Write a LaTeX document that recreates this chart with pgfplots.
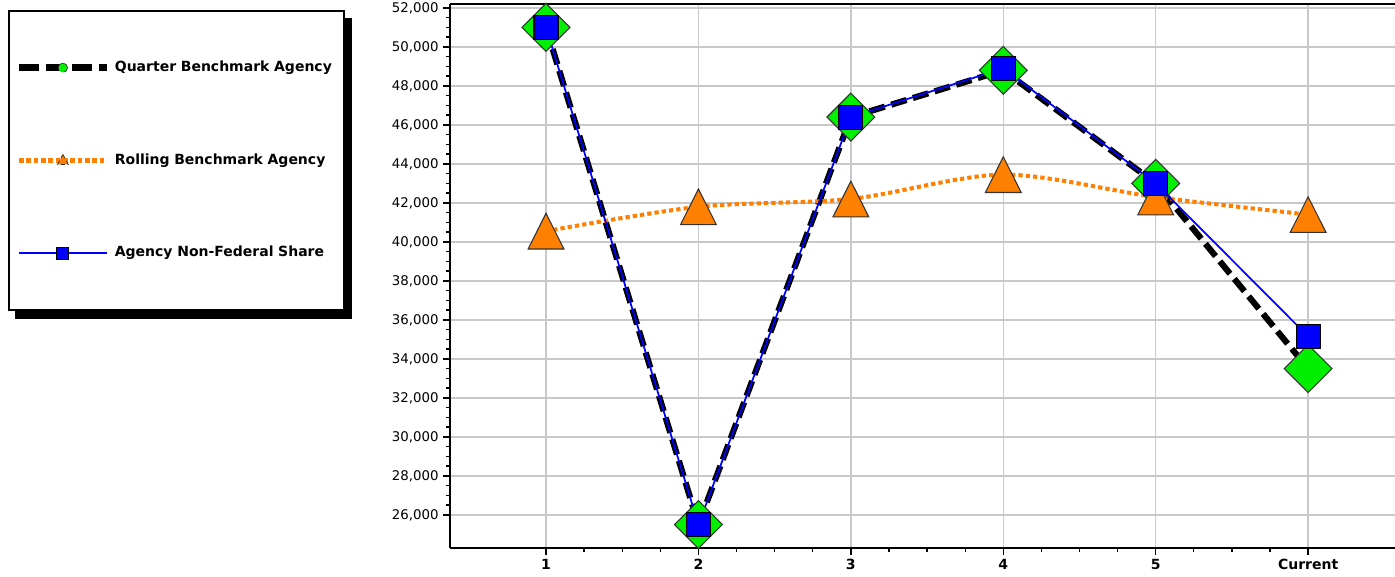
\documentclass[border=0pt]{standalone}
\usepackage{fontspec}
\setmainfont{DejaVu Sans}
\usepackage{pgfplots}
\pgfplotsset{compat=1.18}
\usetikzlibrary{backgrounds}
\definecolor{qgreen}{RGB}{0,240,0}
\definecolor{rorange}{RGB}{255,128,0}
\definecolor{ablue}{RGB}{0,0,255}
\definecolor{gridgray}{RGB}{200,200,200}
\begin{document}
\begin{tikzpicture}
\useasboundingbox (0,0) rectangle (1046.25pt,432.75pt);
\begin{axis}[
  at={(337.5pt,21.75pt)}, anchor=south west,
  scale only axis, width=708.75pt, height=408pt,
  xmin=-0.63, xmax=5.57, ymin=24300, ymax=52200,
  clip=false,
  axis lines=left, axis line style={-, line width=2.2pt, black},
  xtick={0,1,2,3,4,5}, xticklabels={1,2,3,4,5,Current},
  ytick={26000,28000,...,52000},
  scaled y ticks=false,
  minor x tick num=3, minor y tick num=3,
  tick align=outside, major tick length=5pt, minor tick length=3pt,
  tick style={black, line width=1pt},
  grid=major, major grid style={gridgray, line width=1pt},
  /pgf/number format/assume math mode=true,
  /pgf/number format/1000 sep={,},
  yticklabel style={font=\fontsize{10}{12}\selectfont, black},
  xticklabel style={font=\bfseries\fontsize{10.5}{12}\selectfont, black},
  legend cell align=left,
  legend style={name=leg, at={(-0.1111,0.989)}, anchor=north east, draw=black, line width=1.2pt, fill=white,
    inner xsep=5pt, inner ysep=37.5pt, row sep=59pt, column sep=3.5pt,
    nodes={inner sep=0pt, text height=8pt, text depth=2.5pt, text width=167pt, align=left,
      font=\bfseries\fontsize{10.5}{12}\selectfont}},
]
\addplot[black, line width=4.6pt, dash pattern=on 12pt off 5pt,
  mark=square*, mark size=12.7pt,
  mark options={rotate=45, solid, fill=qgreen, draw=black!80, line width=0.8pt},
  legend image code/.code={
    \draw[black, line width=5pt, dash pattern=on 15pt off 5pt] (0pt,0pt) -- (66pt,0pt);
    \draw[fill=qgreen, draw=black!80, line width=0.5pt] (33pt,0pt) circle (3.5pt);
  }] coordinates {(0,51000) (1,25500) (2,46400) (3,48800) (4,43000) (5,33500)};
\addlegendentry{Quarter Benchmark Agency}
\addplot[rorange, line width=3pt, dash pattern=on 3.2pt off 2.3pt, smooth,
  mark=triangle*, mark size=15.5pt,
  mark options={solid, fill=rorange, draw=black!80, line width=0.8pt, yshift=-4.5pt, yscale=1.15},
  legend image code/.code={
    \draw[rorange, line width=3.5pt, dash pattern=on 3.5pt off 2pt] (0pt,0pt) -- (66pt,0pt);
    \draw[fill=rorange, draw=black!80, line width=0.6pt] (33pt,4.5pt) -- (37pt,-3pt) -- (29pt,-3pt) -- cycle;
  }] coordinates {(0,40550) (1,41800) (2,42200) (3,43450) (4,42300) (5,41400)};
\addlegendentry{Rolling Benchmark Agency}
\addplot[ablue, line width=1.3pt,
  mark=square*, mark size=9pt,
  mark options={fill=ablue, draw=black, line width=0.8pt},
  legend image code/.code={
    \draw[ablue, line width=1pt] (0pt,0pt) -- (66pt,0pt);
    \draw[fill=ablue, draw=black, line width=0.8pt] (28.5pt,-4.5pt) rectangle (37.5pt,4.5pt);
  }] coordinates {(0,51000) (1,25500) (2,46400) (3,48900) (4,43000) (5,35150)};
\addlegendentry{Agency Non-Federal Share}
\draw[black, line width=1.2pt] (rel axis cs:0,1) -- (rel axis cs:1,1);
\end{axis}
\begin{pgfonlayer}{background}
\fill[black] ([xshift=5.5pt,yshift=-6pt]leg.south west) rectangle ([xshift=5.5pt,yshift=-6pt]leg.north east);
\end{pgfonlayer}
\end{tikzpicture}
\end{document}
